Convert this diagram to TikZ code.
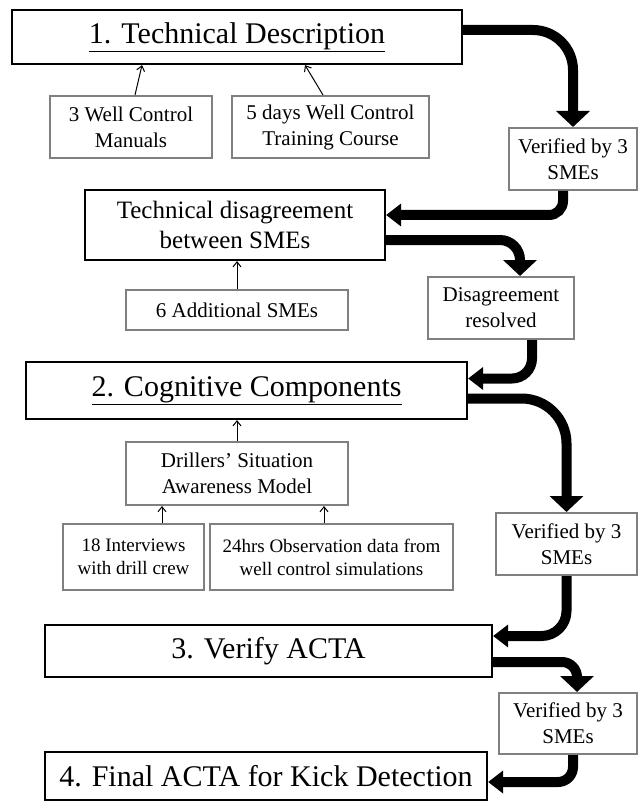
\documentclass[tikz,border=0pt]{standalone}
\usepackage{fontspec}
\setmainfont{Liberation Serif}
\usetikzlibrary{arrows.meta}
\definecolor{boxgray}{RGB}{128,128,128}
\begin{document}
\begin{tikzpicture}[x=1pt,y=-1pt,
  mainbox/.style={draw=black,line width=2.2pt,inner sep=0pt,align=center,
    font=\fontsize{30}{34}\selectfont},
  midbox/.style={draw=black,line width=2.2pt,inner sep=0pt,align=center,
    font=\fontsize{25}{30}\selectfont},
  graybox/.style={draw=boxgray,line width=2pt,inner sep=0pt,align=center,
    font=\fontsize{21}{26}\selectfont},
  smallbox/.style={draw=boxgray,line width=2pt,inner sep=0pt,align=center,
    font=\fontsize{19}{23}\selectfont},
  thinarrow/.style={draw=black,line width=1pt,-{Straight Barb[length=5pt,width=8pt]}},
  thickdown/.style={draw=black,line width=10pt,-{Triangle[width=33pt,length=16pt]}},
  thickleft/.style={draw=black,line width=10pt,-{Triangle[width=22pt,length=15pt]}}
]
\useasboundingbox (0,0) rectangle (637,802);
\fill[white] (0,0) rectangle (637,802);

% main boxes
\node[mainbox,minimum width=450pt,minimum height=54pt] (b1) at (237,37) {\underline{1. Technical Description}};
\node[midbox,minimum width=300pt,minimum height=70pt] (dis) at (235,225) {Technical disagreement\\between SMEs};
\node[mainbox,minimum width=441pt,minimum height=57pt] (c2) at (246.5,390.5) {\underline{2. Cognitive Components}};
\node[mainbox,minimum width=447pt,minimum height=52pt] (b3) at (268.5,651) {3. Verify ACTA};
\node[mainbox,minimum width=442pt,minimum height=48pt] (b4) at (266,776) {4. Final ACTA for Kick Detection};

% gray boxes
\node[graybox,minimum width=162pt,minimum height=62pt] (sA) at (131,127) {3 Well Control\\Manuals};
\node[graybox,minimum width=197pt,minimum height=62pt] (sB) at (330.5,127) {5 days Well Control\\Training Course};
\node[graybox,minimum width=128pt,minimum height=62pt] (v1) at (573,159) {Verified by 3\\SMEs};
\node[graybox,minimum width=222pt,minimum height=40pt] (add) at (237,310) {6 Additional SMEs};
\node[graybox,minimum width=146pt,minimum height=62pt] (res) at (501,308) {Disagreement\\resolved};
\node[graybox,minimum width=222pt,minimum height=63pt] (dri) at (237,473.5) {Drillers'\ Situation\\Awareness Model};
\node[smallbox,minimum width=141pt,minimum height=66pt] (i18) at (133.5,557) {18 Interviews\\with drill crew};
\node[smallbox,minimum width=243pt,minimum height=66pt] (h24) at (331.5,557) {24hrs Observation data from\\well control simulations};
\node[graybox,minimum width=141pt,minimum height=62pt] (v2) at (566.5,544) {Verified by 3\\SMEs};
\node[graybox,minimum width=138pt,minimum height=61pt] (v3) at (568,723.5) {Verified by 3\\SMEs};

% thin arrows
\draw[thinarrow] ([xshift=4pt]sA.north) -- ([xshift=-95pt]b1.south);
\draw[thinarrow] ([xshift=-7.5pt]sB.north) -- ([xshift=68pt]b1.south);
\draw[thinarrow] (add.north) -- (add.north |- dis.south);
\draw[thinarrow] (dri.north) -- (dri.north |- c2.south);
\draw[thinarrow] ([xshift=28.5pt]i18.north) -- ([xshift=28.5pt]i18.north |- dri.south);
\draw[thinarrow] ([xshift=-7.5pt]h24.north) -- ([xshift=-7.5pt]h24.north |- dri.south);

% thick arrows
\draw[thickdown,rounded corners=40pt] ([yshift=7pt]b1.east) -| (v1.north);
\draw[thickleft,rounded corners=14pt] ([xshift=-10pt]v1.south) |- ([yshift=10pt]dis.east);
\draw[thickdown,rounded corners=20pt] ([yshift=-15pt]dis.east) -| ([xshift=19pt]res.north);
\draw[thickleft,rounded corners=20pt] ([xshift=31pt]res.south) |- ([yshift=12pt]c2.east);
\draw[thickdown,rounded corners=45pt] ([yshift=-8pt]c2.east) -| (v2.north);
\draw[thickleft,rounded corners=25pt] (v2.south) |- ([yshift=15pt]b3.east);
\draw[thickdown,rounded corners=15pt] ([yshift=-11pt]b3.east) -| ([xshift=9pt]v3.north);
\draw[thickleft,rounded corners=15pt] ([xshift=5pt]v3.south) |- ([yshift=-6pt]b4.east);
\end{tikzpicture}
\end{document}
